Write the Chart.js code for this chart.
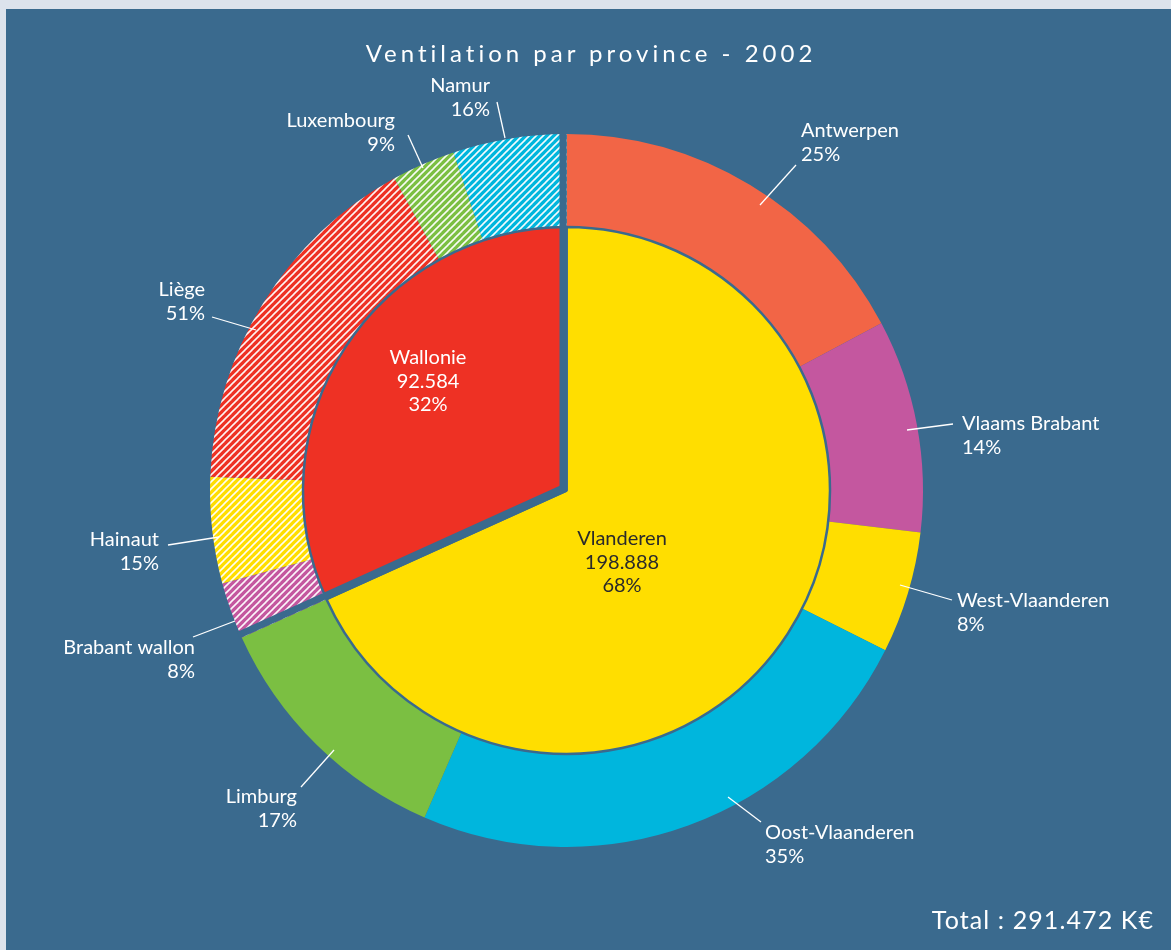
<!DOCTYPE html>
<html lang="fr">
<head>
<meta charset="utf-8">
<title>Ventilation par province - 2002</title>
<script src="https://cdn.jsdelivr.net/npm/chart.js@4.4.1/dist/chart.umd.min.js"></script>
<style>
  html, body { margin: 0; padding: 0; width: 1171px; height: 950px; overflow: hidden; background: #dce3ec; }
  #panel { position: absolute; left: 6px; top: 9px; right: 0; bottom: 0; background: #3a6a8e; }
  #chart { position: absolute; left: 0; top: 0; }
  .caption { position: absolute; color: #ffffff; font-family: Lato, "Open Sans", sans-serif; white-space: nowrap; }
  #title { top: 41px; left: 591px; transform: translateX(-50%); font-size: 24px; line-height: 24px; letter-spacing: 4px; }
  #total { top: 907px; right: 17px; font-size: 25px; line-height: 25px; letter-spacing: 1.1px; }
</style>
</head>
<body>
<div id="panel"></div>
<canvas id="chart" width="1171" height="950"></canvas>
<div class="caption" id="title">Ventilation par province - 2002</div>
<div class="caption" id="total"></div>
<script>
// ---- data (K€, 2002) ----
const regions = ['Vlanderen', 'Wallonie'];
const regionTotals = [198888, 92584];
const regionShares = [68, 32];
const provinces = ['Antwerpen', 'Vlaams Brabant', 'West-Vlaanderen', 'Oost-Vlaanderen', 'Limburg',
                   'Brabant wallon', 'Hainaut', 'Liège', 'Luxembourg', 'Namur'];
const provinceRegion = [0, 0, 0, 0, 0, 1, 1, 1, 1, 1];
const provinceShares = [25, 14, 8, 35, 17, 8, 15, 51, 9, 16]; // % of the region
const grandTotal = 291472;

// ---- styling ----
const PANEL = '#3a6a8e';
const regionColors = ['#ffde00', '#ee3124'];
const provinceColors = ['#f26546', '#c4579f', '#ffde00', '#00b6dd', '#7bbf42',
                        '#c4579f', '#ffde00', '#ee3124', '#7bbf42', '#00b6dd'];
const regionTextColors = ['#2a2a2a', '#ffffff'];

// label placement, relative to the pie centre: leader [from, to], text anchor, alignment
const provinceLabelLayout = [
  { from: [193.5, -285.5], to: [229.5, -325.5], text: [234.5, -359.5], align: 'left' },
  { from: [340.5, -60.5],  to: [386.5, -66.5],  text: [395.5, -66.5],  align: 'left' },
  { from: [333.5, 94.5],   to: [385.5, 109.5],  text: [390.5, 110.5],  align: 'left' },
  { from: [161.5, 306.5],  to: [194.5, 331.5],  text: [198.5, 342.5],  align: 'left' },
  { from: [-232.5, 259.5], to: [-265.5, 296.5], text: [-269.5, 306.5], align: 'right' },
  { from: [-331.5, 130.5], to: [-373.5, 146.5], text: [-371.5, 157.5], align: 'right' },
  { from: [-347.5, 46.5],  to: [-398.5, 54.5],  text: [-407.5, 49.5],  align: 'right' },
  { from: [-310.5, -160.5],to: [-354.5, -173.5],text: [-361.5, -200.5],align: 'right' },
  { from: [-143.5, -322.5],to: [-158.5, -355.5],text: [-171.5, -369.5],align: 'right' },
  { from: [-61.5, -352.5], to: [-69.5, -388.5], text: [-76.5, -404.5], align: 'right' }
];
const regionLabelLayout = [[55.5, 48.5], [-138.5, -132.5]];

const fmt = v => String(v).replace(/\B(?=(\d{3})+(?!\d))/g, '.');

document.getElementById('total').textContent = 'Total : ' + fmt(grandTotal) + ' K€';

// diagonal white hatching for the Walloon provinces
function hatch(color) {
  const s = 7;
  const c = document.createElement('canvas');
  c.width = s; c.height = s;
  const g = c.getContext('2d');
  g.fillStyle = color;
  g.fillRect(0, 0, s, s);
  g.strokeStyle = 'rgba(255,255,255,0.95)';
  g.lineWidth = 1.6;
  for (const t of [0, s, 2 * s]) {
    g.beginPath();
    g.moveTo(t - s - 1, s + 1);
    g.lineTo(t + 1, -1);
    g.stroke();
  }
  return g.createPattern(c, 'repeat');
}

const provinceValues = provinceShares.map((p, i) => regionTotals[provinceRegion[i]] * p / 100);
const provinceFills = provinceColors.map((c, i) => provinceRegion[i] === 1 ? hatch(c) : c);

const OUTER_R = 356.5, INNER_R = 263.5;

const annotate = {
  id: 'annotate',
  afterDatasetsDraw(chart) {
    const ctx = chart.ctx;
    const ring = chart.getDatasetMeta(0).data;
    const pie = chart.getDatasetMeta(1).data;
    const w = pie[1];
    const cx = w.x, cy = w.y;
    const R = ring[0].outerRadius + 2;

    // separating band along both straight edges of the Walloon sector
    ctx.save();
    ctx.fillStyle = PANEL;
    const gap = 7;
    [[w.startAngle, 1], [w.endAngle, -1]].forEach(([a, s]) => {
      const dx = Math.cos(a), dy = Math.sin(a);
      const nx = -Math.sin(a) * s, ny = Math.cos(a) * s;
      ctx.beginPath();
      ctx.moveTo(cx, cy);
      ctx.lineTo(cx + dx * R, cy + dy * R);
      ctx.lineTo(cx + dx * R + nx * gap, cy + dy * R + ny * gap);
      ctx.lineTo(cx + nx * gap, cy + ny * gap);
      ctx.closePath();
      ctx.fill();
    });
    ctx.restore();

    // province leaders and labels
    ctx.save();
    ctx.strokeStyle = '#ffffff';
    ctx.lineWidth = 1.3;
    ctx.fillStyle = '#ffffff';
    ctx.font = '20px Lato, "Open Sans", sans-serif';
    ctx.textBaseline = 'middle';
    provinces.forEach((name, i) => {
      const L = provinceLabelLayout[i];
      ctx.beginPath();
      ctx.moveTo(cx + L.from[0], cy + L.from[1]);
      ctx.lineTo(cx + L.to[0], cy + L.to[1]);
      ctx.stroke();
      ctx.textAlign = L.align;
      ctx.fillText(name, cx + L.text[0], cy + L.text[1]);
      ctx.fillText(provinceShares[i] + '%', cx + L.text[0], cy + L.text[1] + 24);
    });

    // region labels inside the pie
    ctx.textAlign = 'center';
    regions.forEach((name, i) => {
      const [lx, ly] = regionLabelLayout[i];
      ctx.fillStyle = regionTextColors[i];
      ctx.fillText(name, cx + lx, cy + ly);
      ctx.fillText(fmt(regionTotals[i]), cx + lx, cy + ly + 23.5);
      ctx.fillText(regionShares[i] + '%', cx + lx, cy + ly + 47);
    });
    ctx.restore();
  }
};

new Chart(document.getElementById('chart'), {
  type: 'doughnut',
  data: {
    labels: provinces,
    datasets: [
      {
        label: 'Provinces',
        data: provinceValues,
        backgroundColor: provinceFills,
        borderWidth: 0,
        weight: OUTER_R - INNER_R,
        order: 1
      },
      {
        label: 'Régions',
        data: regionTotals,
        backgroundColor: regionColors,
        borderColor: PANEL,
        borderWidth: 2.5,
        weight: INNER_R,
        order: 0
      }
    ]
  },
  options: {
    responsive: false,
    animation: false,
    events: [],
    radius: OUTER_R,
    cutout: 0,
    rotation: 0,
    hoverOffset: 0,
    layout: { padding: { left: 0, right: 38, top: 31, bottom: 0 } },
    plugins: { legend: { display: false }, tooltip: { enabled: false }, title: { display: false } }
  },
  plugins: [annotate]
});
</script>
</body>
</html>
